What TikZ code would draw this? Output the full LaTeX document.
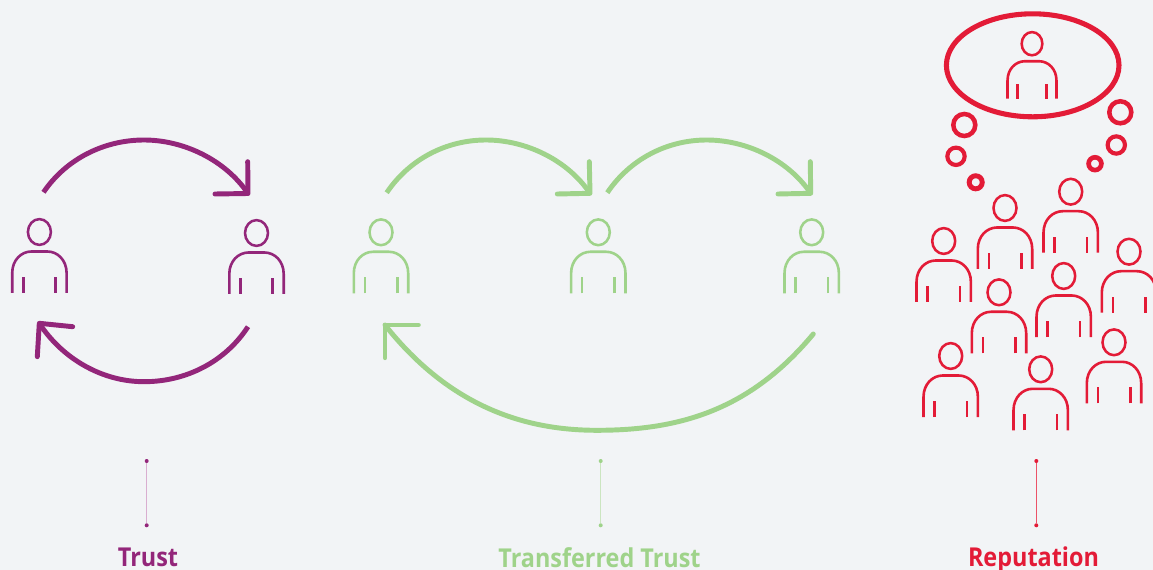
\documentclass[tikz,border=0pt]{standalone}
\usepackage{fontspec}
\setmainfont{Open Sans}
\newfontfamily\capfont[FakeStretch=0.9]{Open Sans}
\definecolor{bgc}{HTML}{F2F4F6}
\definecolor{purp}{HTML}{93267A}
\definecolor{purpl}{HTML}{D9AED0}
\definecolor{gren}{HTML}{9FD38A}
\definecolor{grenl}{HTML}{CBE5C0}
\definecolor{redc}{HTML}{E31B37}
\definecolor{redl}{HTML}{EC5268}
\tikzset{
  x=0.75pt,y=-0.75pt,
  person/.pic={
    \draw[line width=1.9pt] (0,0) ellipse [x radius=11.5,y radius=12.9];
    \draw[line width=1.95pt] (-27.2,61) -- (-27.2,41)
      .. controls (-27.2,28) and (-18,19.5) .. (-8,19.5) -- (8,19.5)
      .. controls (18,19.5) and (27.2,28) .. (27.2,41) -- (27.2,61);
    \draw[line width=1.95pt] (-16.2,61) -- (-16.2,45);
    \draw[line width=1.95pt] (16.2,61) -- (16.2,45);
  },
  bigarc/.style={line width=3.7pt},
  headtip/.style={line width=3.7pt,line cap=round,line join=round},
  ring/.style={circle,draw=redc,fill=none,inner sep=0pt,minimum size=#1},
  enddot/.style={circle,fill=#1,inner sep=0pt,minimum size=3pt},
  caption/.style={font=\capfont\bfseries\fontsize{19.5pt}{22pt}\selectfont,anchor=base,inner sep=0pt,text=#1},
}
\begin{document}
\begin{tikzpicture}
\useasboundingbox (0,0) rectangle (1153,570);
\clip (0,0) rectangle (1153,570);
\fill[bgc] (0,0) rectangle (1153,570);

% ---- Trust
\pic[color=purp] at (39.4,232) {person};
\pic[color=purp] at (256.5,233) {person};
\coordinate (ta) at (43.5,192.3);
\coordinate (tp) at (144,140);
\coordinate (tb) at (248,193.5);
\coordinate (th1) at (247.7,161.7);
\coordinate (th2) at (215,194);
\draw[purp,bigarc] (ta) .. controls +(22.5,-33.3) and +(-40,0) .. (tp)
  .. controls +(40,0) and +(-22.5,-33.3) .. (tb);
\draw[purp,headtip] (th1) -- (tb) -- (th2);
\coordinate (ua) at (248,326.7);
\coordinate (up) at (144,381.7);
\coordinate (ub) at (39.3,323.3);
\coordinate (uh1) at (72.7,326.7);
\coordinate (uh2) at (37.3,356.7);
\draw[purp,bigarc] (ua) .. controls +(-22.9,35.2) and +(42,0) .. (up)
  .. controls +(-42,0) and +(22.9,35.2) .. (ub);
\draw[purp,headtip] (uh1) -- (ub) -- (uh2);
\node[enddot=purp] (t1) at (146.7,461) {};
\node[enddot=purp] (t2) at (146.7,525.3) {};
\draw[purpl,line width=0.9pt] (t1) -- (t2);
\node[caption=purp] (tl) at (148,566) {Trust};

% ---- Transferred Trust
\pic[color=gren] at (381,232.3) {person};
\pic[color=gren] at (598.3,232.3) {person};
\pic[color=gren] at (811.7,232.3) {person};
\coordinate (ga) at (386.7,192.7);
\coordinate (gp) at (486,140);
\coordinate (gb) at (590,193.3);
\coordinate (gh1) at (589.3,161.7);
\coordinate (gh2) at (557.3,194);
\draw[gren,bigarc] (ga) .. controls +(22.5,-33.3) and +(-40,0) .. (gp)
  .. controls +(40,0) and +(-22.5,-33.3) .. (gb);
\draw[gren,headtip] (gh1) -- (gb) -- (gh2);
\coordinate (ja) at (607.3,192.7);
\coordinate (jp) at (706.7,140);
\coordinate (jb) at (810.7,193.3);
\coordinate (jh1) at (810.3,161.7);
\coordinate (jh2) at (778,194);
\draw[gren,bigarc] (ja) .. controls +(22.5,-33.3) and +(-40,0) .. (jp)
  .. controls +(40,0) and +(-22.5,-33.3) .. (jb);
\draw[gren,headtip] (jh1) -- (jb) -- (jh2);
\coordinate (ka) at (813.3,334);
\coordinate (kp) at (597,430.3);
\coordinate (kb) at (385,325);
\coordinate (kh1) at (418.3,325);
\coordinate (kh2) at (385,357.7);
\coordinate (kc1) at (750,410);
\coordinate (kc2) at (680,430.3);
\coordinate (kc3) at (525,430.3);
\coordinate (kc4) at (450,407);
\draw[gren,headtip] (ka) .. controls (kc1) and (kc2) .. (kp)
  .. controls (kc3) and (kc4) .. (kb);
\draw[gren,headtip] (kh1) -- (kb) -- (kh2);
\node[enddot=gren] (g1) at (600.7,461) {};
\node[enddot=gren] (g2) at (600.7,525.3) {};
\draw[grenl,line width=0.9pt] (g1) -- (g2);
\node[caption=gren] (gl) at (599.5,567) {Transferred Trust};

% ---- Reputation
\draw[redc,line width=3.8pt] (1032.7,65.3) ellipse [x radius=86.3,y radius=51.5];
\pic[color=redc,scale=0.9] at (1032,43.7) {person};
\foreach \hx/\hy in {943.7/241,1005/208,1070.7/191.7,1129/251.7,999/292.3,1063.7/276,1114/342.3,950.7/356,1040.7/369.3}
  \pic[color=redc] at (\hx,\hy) {person};
\node[ring=16.5pt,line width=3.4pt] (r1) at (964.3,125) {};
\node[ring=13pt,line width=3.1pt] (r2) at (956,156.3) {};
\node[ring=9.8pt,line width=3.7pt] (r3) at (975.7,182.3) {};
\node[ring=16.5pt,line width=3.4pt] (r4) at (1120.3,112.3) {};
\node[ring=13pt,line width=3.1pt] (r5) at (1116.3,145) {};
\node[ring=9.6pt,line width=3.5pt] (r6) at (1095,163.7) {};
\node[enddot=redc] (e1) at (1036.3,461) {};
\node[enddot=redc] (e2) at (1036.3,525.3) {};
\draw[redl,line width=0.9pt] (e1) -- (e2);
\node[caption=redc] (el) at (1033.5,566) {Reputation};
\end{tikzpicture}
\end{document}
